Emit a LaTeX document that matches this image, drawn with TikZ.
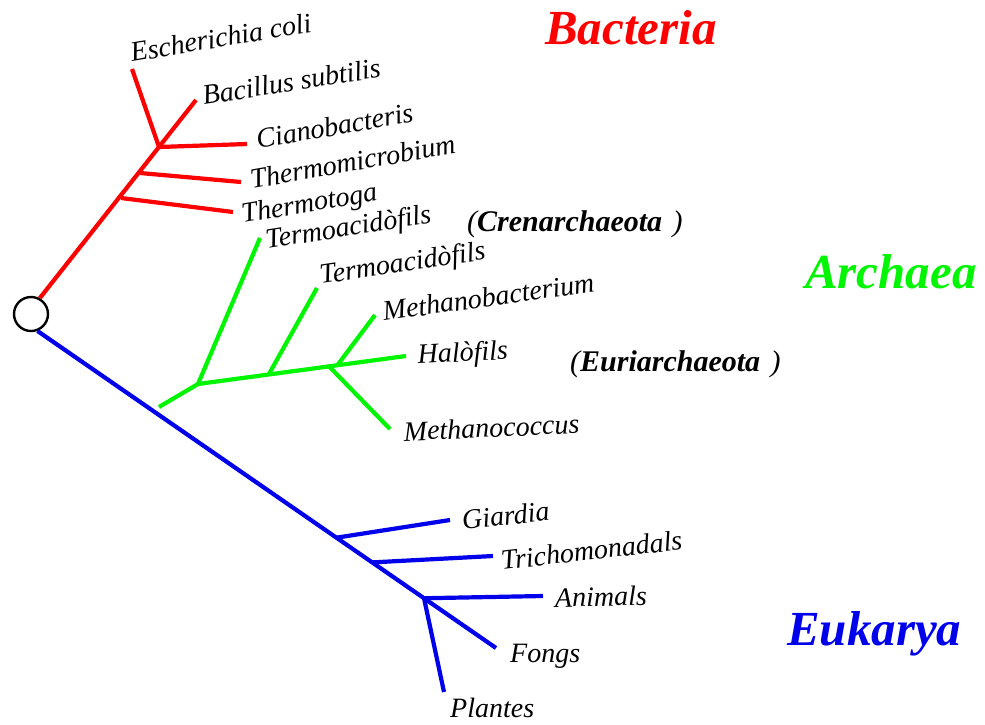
\documentclass[tikz,border=0pt]{standalone}
\usepackage{fontspec}
\setmainfont{Liberation Serif}
\usetikzlibrary{calc}
\definecolor{bactred}  {RGB}{255,  0,  0}
\definecolor{archgreen}{RGB}{  0,245,  0}
\definecolor{eukblue}  {RGB}{  0,  0,235}

\begin{document}
\begin{tikzpicture}[x=1pt, y=-1pt,
  br/.style={line width=4.2pt},
  sp/.style={anchor=base west, inner sep=0pt,
    font=\fontsize{28}{30}\selectfont\itshape},
  grp/.style={anchor=base west, inner sep=0pt,
    font=\fontsize{30}{32}\selectfont\bfseries\itshape},
  dom/.style={anchor=base west, inner sep=0pt,
    font=\fontsize{49}{52}\selectfont\bfseries\itshape},
]
\useasboundingbox (0,0) rectangle (985,724);
%% Root
\node[circle, draw, line width=2.4pt, fill=white, minimum size=34pt,
      inner sep=0pt] (root) at (31,314) {};
%% Bacteria branch points
\coordinate (Bsub)  at (196,100);
\coordinate (bjun)  at (159,147);
\coordinate (Ecol)  at (132, 69);
\coordinate (Cian)  at (247,144);
\coordinate (thmj)  at (140,173);
\coordinate (Thmi)  at (241,182);
\coordinate (thgj)  at (121,198);
\coordinate (Thgt)  at (233,212);
%% Archaea branch points
\coordinate (abase) at (159,407);
\coordinate (ajun)  at (198,384);
\coordinate (Halo)  at (406,356);
\coordinate (Tac1)  at (260,238);
\coordinate (tac2j) at ($(ajun)!0.34!(Halo)$);
\coordinate (Tac2)  at (317,288);
\coordinate (mbj)   at ($(ajun)!0.67!(Halo)$);
\coordinate (Mbac)  at (375,315);
\coordinate (mcj)   at ($(ajun)!0.63!(Halo)$);
\coordinate (Mcoc)  at (390,429);
%% Eukarya branch points
\coordinate (Fong)  at (496,648);
\coordinate (gij)   at ($(root.-69)!0.652!(Fong)$);
\coordinate (Giar)  at (450,520);
\coordinate (trj)   at ($(root.-69)!0.73!(Fong)$);
\coordinate (Tric)  at (493,556);
\coordinate (anj)   at ($(root.-69)!0.843!(Fong)$);
\coordinate (Anim)  at (543,596);
\coordinate (Plan)  at (444,692);
%% Bacteria
\draw[br, bactred] (root.61) -- (Bsub);
\draw[br, bactred] (bjun) -- (Ecol);
\draw[br, bactred] (bjun) -- (Cian);
\draw[br, bactred] (thmj) -- (Thmi);
\draw[br, bactred] (thgj) -- (Thgt);
%% Archaea
\draw[br, archgreen] (abase) -- (ajun) -- (Halo);
\draw[br, archgreen] (ajun) -- (Tac1);
\draw[br, archgreen] (tac2j) -- (Tac2);
\draw[br, archgreen] (mbj) -- (Mbac);
\draw[br, archgreen] (mcj) -- (Mcoc);
%% Eukarya
\draw[br, eukblue] (root.-69) -- (Fong);
\draw[br, eukblue] (gij) -- (Giar);
\draw[br, eukblue] (trj) -- (Tric);
\draw[br, eukblue] (anj) -- (Anim);
\draw[br, eukblue] (anj) -- (Plan);
%% Species labels
\node[sp, rotate=9.5] (lEcol) at (132, 62) {Escherichia coli};
\node[sp, rotate=9]   (lBsub) at (204,105) {Bacillus subtilis};
\node[sp, rotate=10]  (lCian) at (258,149) {Cianobacteris};
\node[sp, rotate=10]  (lThmi) at (252,189) {Thermomicrobium};
\node[sp, rotate=9.5] (lThgt) at (243,223) {Thermotoga};
\node[sp, rotate=9]   (lTac1) at (267,249) {Termoacidòfils};
\node[sp, rotate=8.5] (lTac2) at (321,284) {Termoacidòfils};
\node[sp, rotate=8]   (lMbac) at (384,321) {Methanobacterium};
\node[sp, rotate=3]   (lHalo) at (418,364) {Halòfils};
\node[sp, rotate=2.5] (lMcoc) at (404,441) {Methanococcus};
\node[sp, rotate=6.5] (lGiar) at (463,530) {Giardia};
\node[sp, rotate=6.5] (lTric) at (502,570) {Trichomonadals};
\node[sp, rotate=1]   (lAnim) at (555,607) {Animals};
\node[sp]             (lFong) at (510,662) {Fongs};
\node[sp]             (lPlan) at (450,717) {Plantes};
%% Archaea groups
\node[grp] (cren) at (467,231) {{\mdseries(}Crenarchaeota\hspace{0.35em}{\mdseries)}};
\node[grp] (euri) at (570,371) {{\mdseries(}Euriarchaeota\hspace{0.35em}{\mdseries)}};
%% Domains
\node[dom, text=bactred]   (bact) at (545, 44) {Bacteria};
\node[dom, text=archgreen] (arch) at (805,288) {Archaea};
\node[dom, text=eukblue]   (euka) at (787,645) {Eukarya};
\end{tikzpicture}
\end{document}
